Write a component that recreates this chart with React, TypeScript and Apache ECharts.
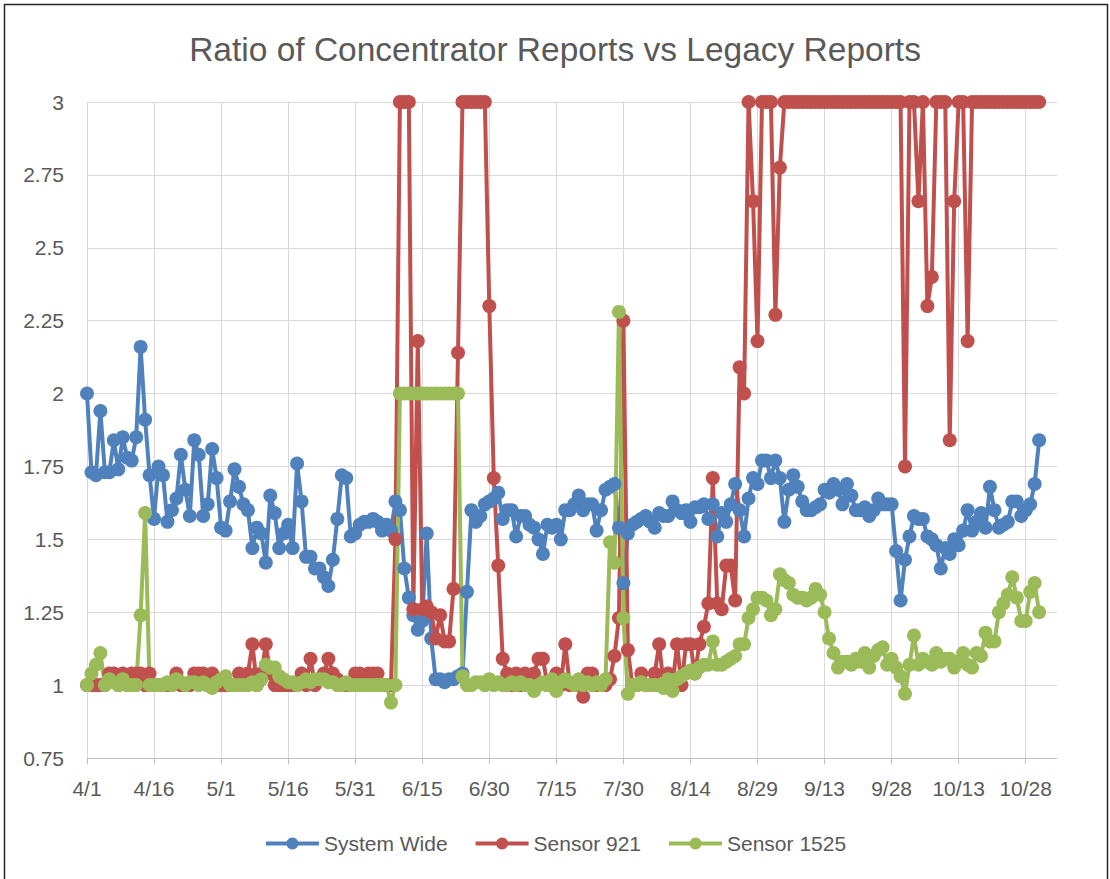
import React, { useEffect, useRef } from "react";
import * as echarts from "echarts";

// Date categories 4/1 .. 11/4 (axis runs a few days past the last reading)
const monthLengths: [number, number][] = [
  [4, 30], [5, 31], [6, 30], [7, 31], [8, 31], [9, 30], [10, 31], [11, 4],
];
const categories: string[] = [];
for (const [m, n] of monthLengths) {
  for (let d = 1; d <= n; d++) categories.push(`${m}/${d}`);
}

const yTicks = { min: 0.75, max: 3, interval: 0.25 };

const systemWide: number[] = [
  2.00, 1.73, 1.72, 1.94, 1.73, 1.73, 1.84, 1.74, 1.85, 1.78,
  1.77, 1.85, 2.16, 1.91, 1.72, 1.57, 1.75, 1.72, 1.56, 1.60,
  1.64, 1.79, 1.67, 1.58, 1.84, 1.79, 1.58, 1.62, 1.81, 1.71,
  1.54, 1.53, 1.63, 1.74, 1.68, 1.62, 1.60, 1.47, 1.54, 1.52,
  1.42, 1.65, 1.59, 1.47, 1.52, 1.55, 1.47, 1.76, 1.63, 1.44,
  1.44, 1.40, 1.40, 1.37, 1.34, 1.43, 1.57, 1.72, 1.71, 1.51,
  1.52, 1.55, 1.56, 1.56, 1.57, 1.56, 1.53, 1.55, 1.53, 1.63,
  1.60, 1.40, 1.30, 1.24, 1.19, 1.22, 1.52, 1.16, 1.02, 1.02,
  1.01, 1.02, 1.02, 1.03, 1.04, 1.32, 1.60, 1.56, 1.58, 1.62,
  1.63, 1.64, 1.66, 1.57, 1.60, 1.60, 1.51, 1.58, 1.58, 1.55,
  1.54, 1.50, 1.45, 1.55, 1.54, 1.55, 1.50, 1.60, 1.60, 1.62,
  1.65, 1.60, 1.62, 1.62, 1.53, 1.60, 1.67, 1.68, 1.69, 1.54,
  1.35, 1.52, 1.55, 1.56, 1.57, 1.58, 1.56, 1.54, 1.59, 1.58,
  1.58, 1.63, 1.60, 1.59, 1.60, 1.56, 1.61, 1.61, 1.62, 1.57,
  1.62, 1.51, 1.59, 1.56, 1.62, 1.69, 1.60, 1.51, 1.64, 1.71,
  1.69, 1.77, 1.77, 1.71, 1.77, 1.71, 1.56, 1.67, 1.72, 1.68,
  1.63, 1.60, 1.60, 1.61, 1.62, 1.67, 1.66, 1.69, 1.67, 1.62,
  1.69, 1.65, 1.60, 1.60, 1.61, 1.58, 1.60, 1.64, 1.62, 1.62,
  1.62, 1.46, 1.29, 1.43, 1.51, 1.58, 1.57, 1.57, 1.51, 1.50,
  1.48, 1.40, 1.47, 1.45, 1.50, 1.48, 1.53, 1.60, 1.53, 1.56,
  1.59, 1.54, 1.68, 1.60, 1.54, 1.55, 1.56, 1.63, 1.63, 1.58,
  1.60, 1.62, 1.69, 1.84,
];

const sensor921: number[] = [
  1.00, 1.00, 1.00, 1.00, 1.00, 1.04, 1.04, 1.00, 1.04, 1.00,
  1.04, 1.04, 1.04, 1.00, 1.04, 1.00, 1.00, 1.00, 1.00, 1.00,
  1.04, 1.00, 1.00, 1.00, 1.04, 1.04, 1.04, 1.00, 1.04, 1.00,
  1.00, 1.00, 1.00, 1.00, 1.04, 1.00, 1.04, 1.14, 1.00, 1.04,
  1.14, 1.04, 1.00, 1.00, 1.00, 1.00, 1.00, 1.00, 1.04, 1.00,
  1.09, 1.00, 1.02, 1.04, 1.09, 1.04, 1.02, 1.00, 1.00, 1.00,
  1.04, 1.04, 1.00, 1.04, 1.04, 1.04, 1.00, 1.00, 1.00, 1.50,
  3.00, 3.00, 3.00, 1.26, 2.18, 1.26, 1.27, 1.25, 1.16, 1.24,
  1.15, 1.15, 1.33, 2.14, 3.00, 3.00, 3.00, 3.00, 3.00, 3.00,
  2.30, 1.71, 1.41, 1.09, 1.04, 1.00, 1.04, 1.00, 1.04, 1.00,
  1.04, 1.09, 1.09, 1.00, 1.00, 1.04, 1.00, 1.14, 1.00, 1.00,
  1.00, 0.96, 1.04, 1.04, 1.00, 1.00, 1.00, 1.02, 1.10, 1.23,
  2.25, 1.12, 1.00, 1.00, 1.04, 1.00, 1.00, 1.04, 1.14, 1.00,
  1.04, 1.00, 1.14, 1.00, 1.14, 1.14, 1.04, 1.14, 1.20, 1.28,
  1.71, 1.28, 1.26, 1.41, 1.41, 1.29, 2.09, 2.00, 3.00, 2.66,
  2.18, 3.00, 3.00, 3.00, 2.27, 2.775, 3.00, 3.00, 3.00, 3.00,
  3.00, 3.00, 3.00, 3.00, 3.00, 3.00, 3.00, 3.00, 3.00, 3.00,
  3.00, 3.00, 3.00, 3.00, 3.00, 3.00, 3.00, 3.00, 3.00, 3.00,
  3.00, 3.00, 3.00, 1.75, 3.00, 3.00, 2.66, 3.00, 2.30, 2.40,
  3.00, 3.00, 3.00, 1.84, 2.66, 3.00, 3.00, 2.18, 3.00, 3.00,
  3.00, 3.00, 3.00, 3.00, 3.00, 3.00, 3.00, 3.00, 3.00, 3.00,
  3.00, 3.00, 3.00, 3.00,
];

const sensor1525: number[] = [
  1.00, 1.04, 1.07, 1.11, 1.00, 1.02, 1.01, 1.00, 1.02, 1.00,
  1.00, 1.00, 1.24, 1.59, 1.00, 1.00, 1.00, 1.00, 1.01, 1.00,
  1.02, 1.01, 1.00, 1.01, 1.01, 1.00, 1.01, 1.00, 0.99, 1.01,
  1.02, 1.03, 1.00, 1.00, 1.00, 1.00, 1.00, 1.01, 1.00, 1.02,
  1.07, 1.06, 1.06, 1.03, 1.02, 1.01, 1.01, 1.00, 1.01, 1.02,
  1.01, 1.02, 1.02, 1.02, 1.01, 1.01, 1.00, 1.00, 1.01, 1.00,
  1.00, 1.00, 1.00, 1.00, 1.00, 1.00, 1.00, 1.00, 0.94, 1.00,
  2.00, 2.00, 2.00, 2.00, 2.00, 2.00, 2.00, 2.00, 2.00, 2.00,
  2.00, 2.00, 2.00, 2.00, 1.03, 1.00, 1.00, 1.01, 1.01, 1.00,
  1.02, 1.00, 1.01, 1.00, 1.00, 1.01, 1.00, 1.01, 1.00, 1.00,
  0.98, 1.00, 1.01, 1.00, 1.02, 0.98, 1.01, 1.02, 1.01, 1.00,
  1.02, 1.00, 1.01, 1.00, 1.01, 1.00, 1.02, 1.49, 1.42, 2.28,
  1.23, 0.97, 1.00, 1.00, 1.01, 1.00, 1.00, 1.00, 1.00, 0.99,
  1.02, 0.98, 1.02, 1.03, 1.04, 1.05, 1.04, 1.06, 1.07, 1.07,
  1.15, 1.07, 1.07, 1.08, 1.09, 1.10, 1.14, 1.14, 1.23, 1.26,
  1.30, 1.30, 1.29, 1.24, 1.26, 1.38, 1.36, 1.35, 1.31, 1.30,
  1.30, 1.29, 1.30, 1.33, 1.31, 1.25, 1.16, 1.11, 1.06, 1.08,
  1.08, 1.07, 1.09, 1.08, 1.11, 1.06, 1.10, 1.12, 1.13, 1.07,
  1.09, 1.06, 1.03, 0.97, 1.07, 1.17, 1.07, 1.09, 1.08, 1.07,
  1.11, 1.08, 1.09, 1.09, 1.06, 1.08, 1.11, 1.07, 1.06, 1.11,
  1.10, 1.18, 1.15, 1.15, 1.25, 1.28, 1.31, 1.37, 1.30, 1.22,
  1.22, 1.32, 1.35, 1.25,
];

const seriesNames = ["System Wide", "Sensor 921", "Sensor 1525"];
const seriesColors = ["#4F81BD", "#C0504D", "#9BBB59"];
const seriesData = [systemWide, sensor921, sensor1525];

const FONT = "'Liberation Sans', Arial, sans-serif";
const TEXT = "#595959";

export default function App() {
  const ref = useRef<HTMLDivElement>(null);
  useEffect(() => {
    if (!ref.current) return;
    const chart = echarts.init(ref.current, undefined, { renderer: "svg" });
    chart.setOption({
      animation: false,
      backgroundColor: "#ffffff",
      textStyle: { fontFamily: FONT },
      title: {
        text: "Ratio of Concentrator Reports vs Legacy Reports",
        left: "center",
        top: 27,
        textStyle: { fontFamily: FONT, fontSize: 33.5, fontWeight: "normal", color: TEXT },
      },
      legend: {
        data: seriesNames,
        bottom: 20,
        left: "center",
        itemWidth: 53,
        itemHeight: 15,
        itemGap: 26,
        lineStyle: { width: 4 },
        textStyle: { fontFamily: FONT, fontSize: 21, color: TEXT },
      },
      grid: { left: 87, right: 53, top: 102, bottom: 121, containLabel: false },
      xAxis: {
        type: "category",
        boundaryGap: false,
        data: categories,
        axisLine: { lineStyle: { color: "#BFBFBF", width: 1 } },
        axisTick: { show: true, interval: 14, length: 6, lineStyle: { color: "#BFBFBF" } },
        axisLabel: {
          interval: 14,
          fontFamily: FONT,
          fontSize: 21,
          color: TEXT,
          margin: 20,
        },
        splitLine: { show: true, interval: 14, lineStyle: { color: "#D9D9D9", width: 1 } },
      },
      yAxis: {
        type: "value",
        min: yTicks.min,
        max: yTicks.max,
        interval: yTicks.interval,
        axisLine: { show: false },
        axisTick: { show: false },
        axisLabel: { fontFamily: FONT, fontSize: 21, color: TEXT, margin: 23 },
        splitLine: { lineStyle: { color: "#D9D9D9", width: 1 } },
      },
      series: seriesNames.map((name, i) => ({
        name,
        type: "line",
        data: seriesData[i],
        symbol: "circle",
        symbolSize: 14,
        showAllSymbol: true,
        color: seriesColors[i],
        lineStyle: { width: 4, color: seriesColors[i] },
        itemStyle: { color: seriesColors[i] },
      })),
      graphic: [
        {
          type: "rect",
          shape: { x: 4.5, y: 4.5, width: 1103, height: 900 },
          style: { fill: "none", stroke: "#262626", lineWidth: 1.5 },
          silent: true,
        },
      ],
    });
    return () => chart.dispose();
  }, []);
  return (
    <div
      ref={ref}
      style={{ position: "fixed", left: 0, top: 0, width: 1110, height: 879, background: "#fff" }}
    />
  );
}
